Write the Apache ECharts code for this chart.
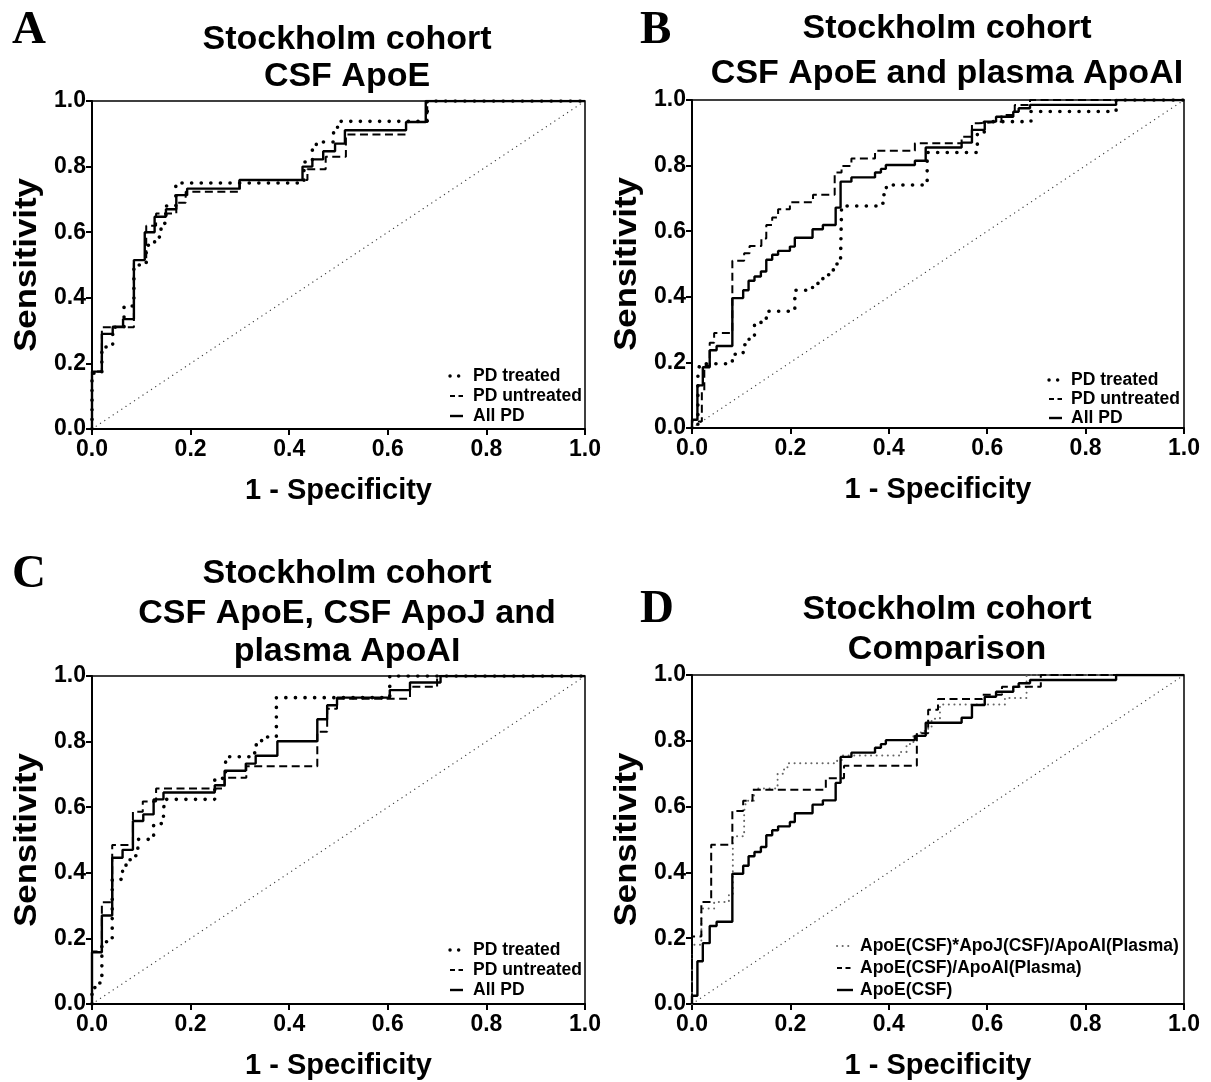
<!DOCTYPE html>
<html><head><meta charset="utf-8">
<script src="https://cdn.jsdelivr.net/npm/echarts@6/dist/echarts.min.js"></script>
<style>html,body{margin:0;padding:0;background:#fff;}#c{width:1211px;height:1082px;}</style>
</head><body><div id="c"></div>
<script>
// ---------- data ----------
const tickValues = [0.0, 0.2, 0.4, 0.6, 0.8, 1.0];
const diagX = [0, 1];
const diagY = [0, 1];

// Panel A : CSF ApoE
const aTreatedX = [0, 0, 0.02, 0.042, 0.065, 0.085, 0.11, 0.127, 0.14, 0.15, 0.17, 0.43, 0.447, 0.455, 0.49, 0.498, 0.68, 1];
const aTreatedY = [0, 0.17, 0.25, 0.31, 0.375, 0.50, 0.56, 0.585, 0.627, 0.68, 0.75, 0.814, 0.852, 0.875, 0.919, 0.938, 1, 1];
const aUntreatedX = [0, 0, 0.02, 0.085, 0.11, 0.13, 0.171, 0.19, 0.30, 0.437, 0.474, 0.515, 0.637, 0.68, 1];
const aUntreatedY = [0, 0.175, 0.31, 0.515, 0.62, 0.657, 0.69, 0.723, 0.759, 0.792, 0.83, 0.898, 0.936, 1, 1];
const aAllX = [0, 0, 0.020, 0.042, 0.063, 0.085, 0.107, 0.127, 0.150, 0.171, 0.193, 0.299, 0.427, 0.447, 0.469, 0.493, 0.513, 0.637, 0.677, 1];
const aAllY = [0, 0.175, 0.29, 0.312, 0.335, 0.515, 0.60, 0.647, 0.67, 0.713, 0.733, 0.759, 0.80, 0.822, 0.847, 0.87, 0.911, 0.936, 1, 1];

// Panel B : CSF ApoE and plasma ApoAI
const bTreatedX = [0, 0.012, 0.016, 0.082, 0.104, 0.116, 0.127, 0.151, 0.209, 0.245, 0.256, 0.266, 0.278, 0.29, 0.302, 0.304, 0.384, 0.39, 0.395, 0.478, 0.58, 0.594, 0.689, 0.862, 1];
const bTreatedY = [0, 0.167, 0.196, 0.225, 0.254, 0.274, 0.322, 0.356, 0.42, 0.437, 0.452, 0.467, 0.482, 0.5, 0.518, 0.677, 0.685, 0.711, 0.741, 0.84, 0.9, 0.934, 0.965, 1, 1];
const bUntreatedX = [0, 0, 0.02, 0.025, 0.036, 0.045, 0.082, 0.106, 0.117, 0.141, 0.151, 0.163, 0.175, 0.199, 0.246, 0.29, 0.304, 0.324, 0.372, 0.453, 0.548, 0.569, 0.582, 0.629, 0.656, 0.687, 1];
const bUntreatedY = [0, 0.02, 0.11, 0.19, 0.26, 0.29, 0.51, 0.533, 0.555, 0.578, 0.619, 0.642, 0.667, 0.688, 0.711, 0.779, 0.799, 0.822, 0.845, 0.868, 0.888, 0.929, 0.934, 0.954, 0.985, 1, 1];
const bAllX = [0, 0, 0.011, 0.022, 0.036, 0.05, 0.082, 0.104, 0.115, 0.127, 0.14, 0.151, 0.163, 0.175, 0.199, 0.209, 0.245, 0.266, 0.292, 0.302, 0.324, 0.372, 0.384, 0.394, 0.453, 0.475, 0.548, 0.569, 0.595, 0.618, 0.653, 0.664, 0.687, 0.862, 1];
const bAllY = [0, 0.025, 0.13, 0.185, 0.237, 0.25, 0.396, 0.42, 0.449, 0.462, 0.477, 0.513, 0.528, 0.54, 0.553, 0.58, 0.606, 0.619, 0.672, 0.751, 0.764, 0.779, 0.79, 0.802, 0.815, 0.855, 0.87, 0.909, 0.934, 0.949, 0.964, 0.975, 0.985, 1, 1];

// Panel C : CSF ApoE, CSF ApoJ and plasma ApoAI
const cTreatedX = [0, 0, 0.015, 0.02, 0.041, 0.062, 0.069, 0.083, 0.093, 0.125, 0.145, 0.147, 0.249, 0.271, 0.33, 0.344, 0.374, 0.604, 1];
const cTreatedY = [0, 0.05, 0.064, 0.19, 0.38, 0.42, 0.44, 0.452, 0.502, 0.55, 0.586, 0.624, 0.688, 0.754, 0.79, 0.814, 0.934, 1, 1];
const cUntreatedX = [0, 0, 0.02, 0.041, 0.083, 0.103, 0.13, 0.269, 0.313, 0.457, 0.477, 0.497, 0.645, 0.7, 1];
const cUntreatedY = [0, 0.16, 0.31, 0.485, 0.586, 0.617, 0.657, 0.69, 0.725, 0.83, 0.9, 0.931, 0.967, 1, 1];
const cAllX = [0, 0, 0.02, 0.041, 0.062, 0.083, 0.104, 0.125, 0.145, 0.249, 0.269, 0.312, 0.332, 0.376, 0.457, 0.477, 0.497, 0.604, 0.645, 0.707, 1];
const cAllY = [0, 0.158, 0.27, 0.446, 0.47, 0.558, 0.578, 0.624, 0.645, 0.667, 0.711, 0.733, 0.757, 0.801, 0.868, 0.911, 0.934, 0.957, 0.98, 1, 1];

// Panel D : Comparison
const dTripleX = [0, 0, 0.019, 0.045, 0.075, 0.083, 0.106, 0.11, 0.126, 0.174, 0.187, 0.194, 0.295, 0.305, 0.425, 0.436, 0.45, 0.465, 0.48, 0.487, 0.504, 0.636, 0.68, 1];
const dTripleY = [0, 0.18, 0.29, 0.31, 0.335, 0.51, 0.585, 0.618, 0.655, 0.70, 0.713, 0.732, 0.742, 0.755, 0.766, 0.79, 0.82, 0.83, 0.84, 0.867, 0.91, 0.93, 1, 1];
const dRatioX = [0, 0, 0.019, 0.039, 0.082, 0.104, 0.123, 0.272, 0.309, 0.457, 0.48, 0.50, 0.59, 0.63, 0.709, 1];
const dRatioY = [0, 0.205, 0.31, 0.484, 0.587, 0.618, 0.651, 0.686, 0.724, 0.823, 0.894, 0.927, 0.94, 0.964, 1, 1];
const dApoEX = [0, 0, 0.011, 0.022, 0.036, 0.05, 0.082, 0.104, 0.115, 0.127, 0.14, 0.151, 0.163, 0.175, 0.199, 0.209, 0.245, 0.266, 0.292, 0.302, 0.324, 0.372, 0.384, 0.394, 0.453, 0.475, 0.548, 0.569, 0.595, 0.618, 0.653, 0.664, 0.687, 0.862, 1];
const dApoEY = [0, 0.025, 0.13, 0.185, 0.237, 0.25, 0.396, 0.42, 0.449, 0.462, 0.477, 0.513, 0.528, 0.54, 0.553, 0.58, 0.606, 0.619, 0.672, 0.751, 0.764, 0.779, 0.79, 0.802, 0.815, 0.855, 0.87, 0.909, 0.934, 0.949, 0.964, 0.975, 0.985, 1, 1];

const titlesA = ['Stockholm cohort', 'CSF ApoE'];
const titlesB = ['Stockholm cohort', 'CSF ApoE and plasma ApoAI'];
const titlesC = ['Stockholm cohort', 'CSF ApoE, CSF ApoJ and', 'plasma ApoAI'];
const titlesD = ['Stockholm cohort', 'Comparison'];
const panelLetters = ['A', 'B', 'C', 'D'];
const legendPD = ['PD treated', 'PD untreated', 'All PD'];
const legendComp = ['ApoE(CSF)*ApoJ(CSF)/ApoAI(Plasma)', 'ApoE(CSF)/ApoAI(Plasma)', 'ApoE(CSF)'];
const xName = '1 - Specificity';
const yName = 'Sensitivity';

// ---------- styles ----------
const FONT = '"Liberation Sans", Arial, sans-serif';
const SERIF = '"Liberation Serif", "Times New Roman", serif';
const dotStyle = {color: '#000', width: 3.6, type: [0.1, 9.5], cap: 'round'};
const dashStyle = {color: '#000', width: 2, type: [8, 4.5]};
const solidStyle = {color: '#000', width: 2.4, type: 'solid'};
const greyDotStyle = {color: '#666', width: 2, type: [0.1, 5.5], cap: 'round'};
const diagStyle = {color: '#444', width: 1.3, type: [0.1, 5], cap: 'round'};

const grids = [
  {left: 92, top: 101, width: 493, height: 328},
  {left: 692, top: 100, width: 492, height: 328},
  {left: 92, top: 676, width: 493, height: 328},
  {left: 692, top: 675, width: 492, height: 329}
];

function zip(xs, ys) { return xs.map((x, i) => [x, ys[i]]); }

const xAxes = [], yAxes = [];
grids.forEach((g, i) => {
  const common = {
    gridIndex: i, type: 'value', min: tickValues[0], max: tickValues[tickValues.length - 1],
    interval: tickValues[1] - tickValues[0],
    axisLine: {show: true, onZero: false, lineStyle: {color: '#000', width: 2}},
    axisTick: {show: true, inside: false, length: 6, lineStyle: {color: '#000', width: 2}},
    splitLine: {show: false},
    axisLabel: {formatter: v => v.toFixed(1), fontSize: 23, fontWeight: 'bold', color: '#000', fontFamily: FONT},
  };
  xAxes.push(Object.assign({}, common, {
    name: xName, nameLocation: 'middle', nameGap: 47,
    nameTextStyle: {fontSize: 29, fontWeight: 'bold', color: '#000', fontFamily: FONT},
    axisLabel: Object.assign({}, common.axisLabel, {margin: 9})
  }));
  yAxes.push(Object.assign({}, common, {
    axisLabel: Object.assign({}, common.axisLabel, {margin: 6})
  }));
});

function ser(idx, xs, ys, style, z) {
  return {type: 'line', xAxisIndex: idx, yAxisIndex: idx, data: zip(xs, ys), step: 'end',
    symbol: 'none', lineStyle: style, z: z, silent: true, animation: false};
}
function diag(idx) {
  return {type: 'line', xAxisIndex: idx, yAxisIndex: idx, data: zip(diagX, diagY), symbol: 'none',
    lineStyle: diagStyle, z: 1, silent: true, animation: false};
}

const series = [
  diag(0), ser(0, aTreatedX, aTreatedY, dotStyle, 2), ser(0, aUntreatedX, aUntreatedY, dashStyle, 3), ser(0, aAllX, aAllY, solidStyle, 4),
  diag(1), ser(1, bTreatedX, bTreatedY, dotStyle, 2), ser(1, bUntreatedX, bUntreatedY, dashStyle, 3), ser(1, bAllX, bAllY, solidStyle, 4),
  diag(2), ser(2, cTreatedX, cTreatedY, dotStyle, 2), ser(2, cUntreatedX, cUntreatedY, dashStyle, 3), ser(2, cAllX, cAllY, solidStyle, 4),
  diag(3), ser(3, dTripleX, dTripleY, greyDotStyle, 2), ser(3, dRatioX, dRatioY, dashStyle, 3), ser(3, dApoEX, dApoEY, solidStyle, 4)
];

// ---------- graphics: titles, letters, y names, legends ----------
const graphic = [];
function txt(x, y, text, font, align, extra) {
  return Object.assign({type: 'text', x: x, y: y, silent: true,
    style: {text: text, font: font, fill: '#000', textAlign: align || 'center', textVerticalAlign: 'middle'}}, extra || {});
}
const titleFont = 'bold 34px ' + FONT;
[[titlesA, 347, [40, 77]], [titlesB, 947, [29, 74]], [titlesC, 347, [574, 614, 652]], [titlesD, 947, [610, 650]]]
  .forEach(([lines, cx, ys]) => lines.forEach((t, i) => graphic.push(txt(cx, ys[i], t, titleFont))));

const letterPos = [[12, 31], [640, 31], [12, 575], [640, 610]];
panelLetters.forEach((l, i) => graphic.push(txt(letterPos[i][0], letterPos[i][1], l, 'bold 47px ' + SERIF, 'left')));

grids.forEach(g => {
  graphic.push(txt(g.left - 65, g.top + g.height / 2, yName, 'bold 31px ' + FONT, 'center',
    {rotation: Math.PI / 2, scaleX: 1.12}));
});

function legend(x1, x2, tx, ys, names, styles) {
  names.forEach((n, i) => {
    const s = styles[i];
    graphic.push({type: 'line', silent: true, shape: {x1: x1, y1: ys[i], x2: x2, y2: ys[i]},
      style: {stroke: s.color, lineWidth: s.width, lineDash: Array.isArray(s.type) ? s.type : null, lineCap: s.cap || 'butt'}});
    graphic.push(txt(tx, ys[i], n, 'bold 17.5px ' + FONT, 'left'));
  });
}
const legendDot = {color: '#000', width: 3.4, type: [0.1, 8.5], cap: 'round'};
const legendDash = {color: '#000', width: 2, type: [5, 3.5]};
legend(450, 463, 473, [376, 396, 416], legendPD, [legendDot, legendDash, solidStyle]);
legend(1049, 1062, 1071, [380, 399, 418], legendPD, [legendDot, legendDash, solidStyle]);
legend(450, 463, 473, [950, 970, 990], legendPD, [legendDot, legendDash, solidStyle]);
legend(837, 853, 860, [946, 968, 990], legendComp, [greyDotStyle, legendDash, solidStyle]);

const chart = echarts.init(document.getElementById('c'), null, {renderer: 'canvas'});
chart.setOption({
  animation: false,
  backgroundColor: '#fff',
  grid: grids.map(g => Object.assign({show: true, borderColor: '#000', borderWidth: 1.5, backgroundColor: 'transparent'}, g)),
  xAxis: xAxes,
  yAxis: yAxes,
  series: series,
  graphic: graphic
});
</script>
</body></html>
